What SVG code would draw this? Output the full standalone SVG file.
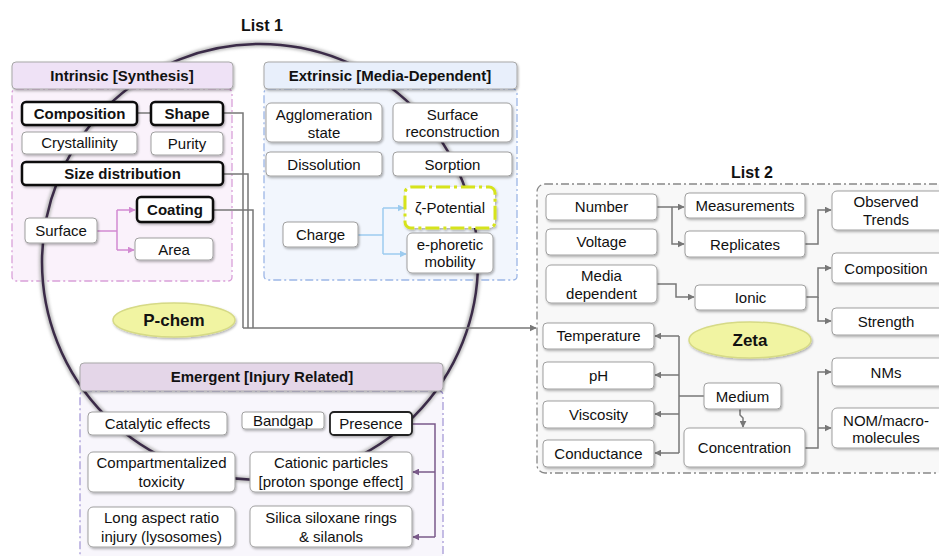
<svg xmlns="http://www.w3.org/2000/svg" width="939" height="556" viewBox="0 0 939 556">
<defs>
<filter id="sh" x="-10%" y="-10%" width="125%" height="140%">
<feDropShadow dx="1" dy="1.5" stdDeviation="1" flood-color="#000" flood-opacity="0.3"/>
</filter>
<filter id="glow" x="-10%" y="-10%" width="120%" height="120%">
<feGaussianBlur stdDeviation="1.5"/>
</filter>
<marker id="ag" viewBox="0 0 10 10" refX="9" refY="5" markerWidth="7" markerHeight="7" markerUnits="userSpaceOnUse" orient="auto"><path d="M0,0 L10,5 L0,10 z" fill="#777"/></marker>
<marker id="ap" viewBox="0 0 10 10" refX="9" refY="5" markerWidth="7" markerHeight="7" markerUnits="userSpaceOnUse" orient="auto"><path d="M0,0 L10,5 L0,10 z" fill="#d28ad2"/></marker>
<marker id="ab" viewBox="0 0 10 10" refX="9" refY="5" markerWidth="7" markerHeight="7" markerUnits="userSpaceOnUse" orient="auto"><path d="M0,0 L10,5 L0,10 z" fill="#9ccbef"/></marker>
<marker id="au" viewBox="0 0 10 10" refX="9" refY="5" markerWidth="7" markerHeight="7" markerUnits="userSpaceOnUse" orient="auto"><path d="M0,0 L10,5 L0,10 z" fill="#7a5a8a"/></marker>
</defs>
<style>
text{font-family:"Liberation Sans",Arial,sans-serif;font-size:15px;fill:#111;text-anchor:middle}
.bold{font-weight:bold}
.title{font-weight:bold;font-size:16px}
.n{fill:#fff;stroke:#a0a0a0;stroke-width:1;filter:url(#sh)}
.nb{fill:#fff;stroke:#111;stroke-width:2.5;filter:url(#sh)}
.hd{stroke:#a8a8a8;stroke-width:1;filter:url(#sh)}
.reg{stroke-width:1.3;stroke-dasharray:8 3 2 3}
.c{fill:none;stroke:#777;stroke-width:1.5}
.cp{fill:none;stroke:#d28ad2;stroke-width:1.5}
.cb{fill:none;stroke:#9ccbef;stroke-width:1.5}
.cu{fill:none;stroke:#7a5a8a;stroke-width:1.5}
.ell{fill:#f1f4a2;stroke:#d6da86;stroke-width:1.5;filter:url(#sh)}
</style>

<!-- titles -->
<text class="title" x="262" y="31">List 1</text>
<text class="title" x="752" y="178">List 2</text>

<!-- region backgrounds -->
<g id="regions">
<rect class="reg" x="12" y="89" width="220" height="192" rx="4" fill="#faf2fb" stroke="#d9a0d9"/>
<rect class="reg" x="264" y="89" width="253" height="191" rx="4" fill="#f2f6fd" stroke="#9cb6e6"/>
<rect class="reg" x="537" y="184" width="412" height="289" rx="8" fill="#f8f8f8" stroke="#888"/>
<rect class="reg" x="80" y="391" width="363" height="185" rx="4" fill="#f8f6fc" stroke="#a79bd8"/>
</g>

<!-- big circle -->
<g id="circle">
<circle cx="260" cy="262" r="218" fill="none" stroke="#bdbdbd" stroke-width="6" filter="url(#glow)"/>
<circle cx="260" cy="262" r="218" fill="none" stroke="#3b2b48" stroke-width="2.5"/>
</g>

<!-- connectors -->
<g id="connectors">
<path class="c" d="M137,113 H151"/>
<path class="c" d="M223,113 H243 V328"/>
<path class="c" d="M223,174 H248 V328"/>
<path class="c" d="M213,210 H253 V328"/>
<path class="c" d="M243,328 H536" marker-end="url(#ag)"/>
<path class="cp" d="M97,231 H117"/>
<path class="cp" d="M117,210 V250"/>
<path class="cp" d="M117,210 H135" marker-end="url(#ap)"/>
<path class="cp" d="M117,250 H134" marker-end="url(#ap)"/>
<path class="cb" d="M358,235 H383"/>
<path class="cb" d="M383,208 V254"/>
<path class="cb" d="M383,208 H404" marker-end="url(#ab)"/>
<path class="cb" d="M383,254 H406" marker-end="url(#ab)"/>
<path class="cu" d="M412,424 H435 V537"/>
<path class="cu" d="M435,472 H413" marker-end="url(#au)"/>
<path class="cu" d="M435,537 H413" marker-end="url(#au)"/>
<path class="c" d="M657,207 H672"/>
<path class="c" d="M672,207 H684" marker-end="url(#ag)"/>
<path class="c" d="M672,207 V244 H684" marker-end="url(#ag)"/>
<path class="c" d="M805,244 H818 V210 H831" marker-end="url(#ag)"/>
<path class="c" d="M657,284 H676 V297 H694" marker-end="url(#ag)"/>
<path class="c" d="M806,297 H818 V268 H831" marker-end="url(#ag)"/>
<path class="c" d="M818,297 V321 H831" marker-end="url(#ag)"/>
<path class="c" d="M704,396 H679"/>
<path class="c" d="M679,336 V453"/>
<path class="c" d="M679,336 H655" marker-end="url(#ag)"/>
<path class="c" d="M679,375 H655" marker-end="url(#ag)"/>
<path class="c" d="M679,414 H655" marker-end="url(#ag)"/>
<path class="c" d="M679,453 H655" marker-end="url(#ag)"/>
<path class="c" d="M740,409 V415 L743,418 V427" marker-end="url(#ag)"/>
<path class="c" d="M805,448 H818 V372 H831" marker-end="url(#ag)"/>
<path class="c" d="M818,428 H831" marker-end="url(#ag)"/>
</g>

<!-- headers -->
<g id="h-intrinsic"><rect class="hd" x="12" y="62" width="221" height="27" rx="4" fill="#efe2f6"/><text class="bold" x="122" y="81">Intrinsic [Synthesis]</text></g>
<g id="h-extrinsic"><rect class="hd" x="264" y="62" width="253" height="27" rx="4" fill="#e8effb"/><text class="bold" x="390" y="81">Extrinsic [Media-Dependent]</text></g>
<g id="h-emergent"><rect class="hd" x="80" y="363" width="363" height="28" rx="4" fill="#e4d6e8"/><text class="bold" x="262" y="382">Emergent [Injury Related]</text></g>

<!-- intrinsic nodes -->
<g id="composition"><rect class="nb" x="22" y="102" width="115" height="23" rx="4"/><text class="bold" x="79.5" y="118.5">Composition</text></g>
<g id="shape"><rect class="nb" x="151" y="102" width="72" height="23" rx="4"/><text class="bold" x="187" y="118.5">Shape</text></g>
<g id="crystallinity"><rect class="n" x="22" y="132" width="115" height="22" rx="4"/><text x="79.5" y="148">Crystallinity</text></g>
<g id="purity"><rect class="n" x="151" y="132" width="72" height="23" rx="4"/><text x="187" y="148.5">Purity</text></g>
<g id="size"><rect class="nb" x="22" y="162" width="201" height="23" rx="4"/><text class="bold" x="122.5" y="178.5">Size distribution</text></g>
<g id="coating"><rect class="nb" x="137" y="197" width="76" height="25" rx="4"/><text class="bold" x="175" y="215">Coating</text></g>
<g id="surface"><rect class="n" x="25" y="218" width="72" height="25" rx="4"/><text x="61" y="236">Surface</text></g>
<g id="area"><rect class="n" x="135" y="238" width="78" height="22" rx="4"/><text x="174" y="254.5">Area</text></g>

<!-- extrinsic nodes -->
<g id="agglomeration"><rect class="n" x="266" y="103" width="116" height="39" rx="5"/><text x="324" y="120">Agglomeration</text><text x="324" y="138">state</text></g>
<g id="surface-rec"><rect class="n" x="393" y="103" width="119" height="39" rx="5"/><text x="452.5" y="120">Surface</text><text x="452.5" y="137">reconstruction</text></g>
<g id="dissolution"><rect class="n" x="266" y="152" width="116" height="24" rx="4"/><text x="324" y="169.5">Dissolution</text></g>
<g id="sorption"><rect class="n" x="393" y="152" width="119" height="24" rx="4"/><text x="452.5" y="169.5">Sorption</text></g>
<g id="zeta-potential"><rect x="405" y="187" width="90" height="41" rx="6" fill="#fff" stroke="#d6e31c" stroke-width="3" stroke-dasharray="14 4 3 4" filter="url(#sh)"/><text x="450" y="212.5">ζ-Potential</text></g>
<g id="ephoretic"><rect class="n" x="407" y="233" width="86" height="40" rx="5"/><text x="450" y="250">e-phoretic</text><text x="450" y="267">mobility</text></g>
<g id="charge"><rect class="n" x="283" y="222" width="75" height="25" rx="4"/><text x="320.5" y="240">Charge</text></g>

<g id="pchem"><ellipse class="ell" cx="174" cy="320" rx="61" ry="17"/><text class="bold" x="174" y="326" style="font-size:17px">P-chem</text></g>

<!-- list 2 nodes -->
<g id="number"><rect class="n" x="546" y="194" width="111" height="26" rx="4"/><text x="601.5" y="212">Number</text></g>
<g id="voltage"><rect class="n" x="546" y="229" width="111" height="26" rx="4"/><text x="601.5" y="247">Voltage</text></g>
<g id="media"><rect class="n" x="546" y="265" width="111" height="38" rx="5"/><text x="601.5" y="281">Media</text><text x="601.5" y="299">dependent</text></g>
<g id="measurements"><rect class="n" x="685" y="193" width="120" height="25" rx="4"/><text x="745" y="211">Measurements</text></g>
<g id="replicates"><rect class="n" x="685" y="231" width="120" height="26" rx="4"/><text x="745" y="250">Replicates</text></g>
<g id="observed"><rect class="n" x="832" y="191" width="112" height="39" rx="5"/><text x="886" y="207">Observed</text><text x="886" y="225">Trends</text></g>
<g id="ionic"><rect class="n" x="695" y="285" width="111" height="25" rx="4"/><text x="750.5" y="303">Ionic</text></g>
<g id="composition2"><rect class="n" x="832" y="253" width="112" height="30" rx="4"/><text x="886" y="274">Composition</text></g>
<g id="strength"><rect class="n" x="832" y="308" width="112" height="27" rx="4"/><text x="886" y="327">Strength</text></g>
<g id="zeta"><ellipse class="ell" cx="750" cy="340" rx="61" ry="18"/><text class="bold" x="750" y="346" style="font-size:17px">Zeta</text></g>
<g id="temperature"><rect class="n" x="543" y="323" width="111" height="26" rx="4"/><text x="598.5" y="341">Temperature</text></g>
<g id="ph"><rect class="n" x="543" y="362" width="111" height="27" rx="4"/><text x="598.5" y="381">pH</text></g>
<g id="viscosity"><rect class="n" x="543" y="401" width="111" height="27" rx="4"/><text x="598.5" y="420">Viscosity</text></g>
<g id="conductance"><rect class="n" x="543" y="440" width="111" height="27" rx="4"/><text x="598.5" y="459">Conductance</text></g>
<g id="medium"><rect class="n" x="704" y="383" width="77" height="26" rx="4"/><text x="742.5" y="402">Medium</text></g>
<g id="concentration"><rect class="n" x="684" y="428" width="121" height="39" rx="5"/><text x="744.5" y="453">Concentration</text></g>
<g id="nms"><rect class="n" x="832" y="358" width="112" height="28" rx="4"/><text x="886" y="378">NMs</text></g>
<g id="nom"><rect class="n" x="832" y="408" width="112" height="40" rx="5"/><text x="886" y="426">NOM/macro-</text><text x="886" y="443">molecules</text></g>

<!-- emergent nodes -->
<g id="catalytic"><rect class="n" x="88" y="412" width="139" height="23" rx="4"/><text x="157.5" y="429">Catalytic effects</text></g>
<g id="bandgap"><rect class="n" x="242" y="412" width="82" height="17" rx="3"/><text x="283" y="426">Bandgap</text></g>
<g id="presence"><rect x="330" y="412" width="82" height="23" rx="4" fill="#fff" stroke="#222" stroke-width="1.8" filter="url(#sh)"/><text x="371" y="429">Presence</text></g>
<g id="compartment"><rect class="n" x="88" y="452" width="147" height="40" rx="5"/><text x="161.5" y="468">Compartmentalized</text><text x="161.5" y="487">toxicity</text></g>
<g id="cationic"><rect class="n" x="250" y="452" width="162" height="40" rx="5"/><text x="331" y="468">Cationic particles</text><text x="331" y="487">[proton sponge effect]</text></g>
<g id="longaspect"><rect class="n" x="88" y="507" width="147" height="40" rx="5"/><text x="161.5" y="523">Long aspect ratio</text><text x="161.5" y="542">injury (lysosomes)</text></g>
<g id="silica"><rect class="n" x="250" y="506" width="162" height="41" rx="5"/><text x="331" y="523">Silica siloxane rings</text><text x="331" y="542">&amp; silanols</text></g>
</svg>
